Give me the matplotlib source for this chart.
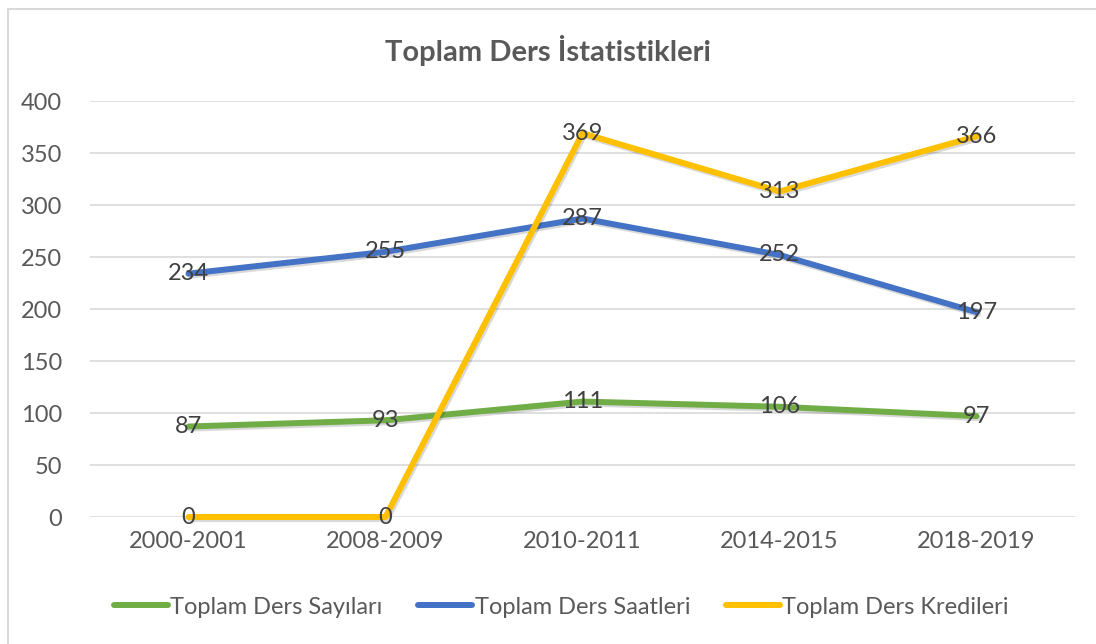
import matplotlib
matplotlib.use("Agg")
import matplotlib.pyplot as plt
import matplotlib.patheffects as pe
from matplotlib.patches import Rectangle

plt.rcParams['font.family'] = ['Lato', 'DejaVu Sans']

years = ["2000-2001", "2008-2009", "2010-2011", "2014-2015", "2018-2019"]
ders_sayilari = [87, 93, 111, 106, 97]
ders_saatleri = [234, 255, 287, 252, 197]
ders_kredileri = [0, 0, 369, 313, 366]

series = [
    ("Toplam Ders Sayıları", ders_sayilari, "#70AD47"),
    ("Toplam Ders Saatleri", ders_saatleri, "#4472C4"),
    ("Toplam Ders Kredileri", ders_kredileri, "#FFC000"),
]

fig = plt.figure(figsize=(10.96, 6.44), dpi=100)
ax = fig.add_axes([90 / 1096, 1 - 517 / 644, 985 / 1096, 416 / 644])

# chart border (partly cut off on the right / bottom)
fig.patches.append(Rectangle((8 / 1096, -0.02), 1.1, 1 - 9 / 644 + 0.02,
                             transform=fig.transFigure, fill=False,
                             edgecolor="#D9D9D9", linewidth=1.5))

x = list(range(len(years)))
shadow = [pe.SimpleLineShadow(offset=(1.2, -1.5), alpha=0.15, shadow_color="black"),
          pe.Normal()]
for name, vals, col in series:
    ax.plot(x, vals, color=col, linewidth=4.3, label=name, clip_on=False,
            solid_capstyle="round", path_effects=shadow)
    for xi, v in zip(x, vals):
        ax.text(xi, v, str(v), ha="center", va="center", fontsize=17,
                color="#404040")

ax.set_xlim(-0.5, 4.5)
ax.set_ylim(0, 400)
ax.set_yticks(range(0, 401, 50))
ax.set_xticks(x)
ax.set_xticklabels(years)
ax.tick_params(axis="both", length=0, labelsize=17, labelcolor="#595959")
ax.tick_params(axis="x", pad=10)
ax.tick_params(axis="y", pad=20)
ax.grid(axis="y", color="#D9D9D9", linewidth=1.2)
ax.set_axisbelow(True)
for s in ax.spines.values():
    s.set_visible(False)

fig.text(0.5, 1 - 50 / 644, "Toplam Ders İstatistikleri", ha="center", va="center",
         fontsize=21, fontweight="bold", color="#595959")

leg = fig.legend(loc="center", bbox_to_anchor=(0.512, 1 - 607 / 644), ncol=3,
                 frameon=False, fontsize=17, handlelength=2.3, handletextpad=0.1,
                 columnspacing=1.5)
for t in leg.get_texts():
    t.set_color("#595959")
for h in leg.get_lines():
    h.set_path_effects([])

fig.savefig("out.png", dpi=100)
